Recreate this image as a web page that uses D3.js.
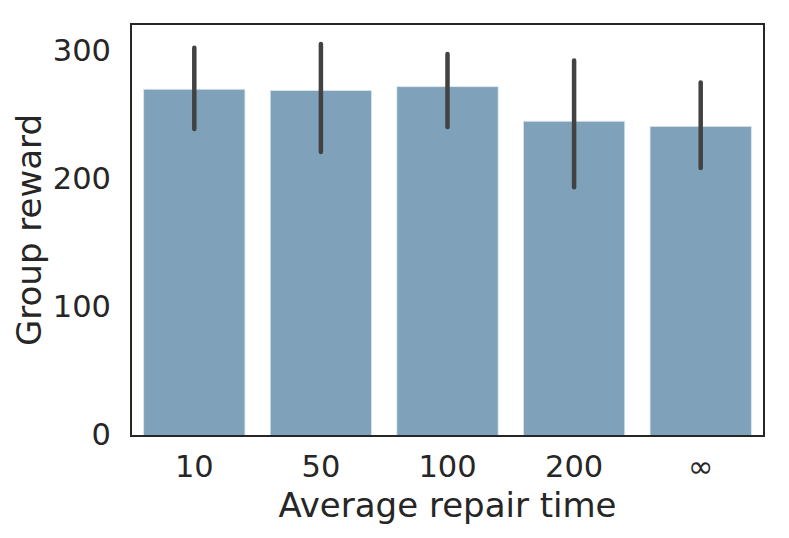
<!DOCTYPE html>
<html>
<head>
<meta charset="utf-8">
<script src="https://cdn.jsdelivr.net/npm/d3@7"></script>
<style>
  body { margin: 0; background: #fff; }
  text { font-family: "DejaVu Sans", sans-serif; fill: #262626; }
</style>
</head>
<body>
<svg id="chart" width="789" height="538"></svg>
<script>
// repair time categories and mean group reward with its confidence interval
const categories = ["10", "50", "100", "200", "\u221e"];
const rewards = [271, 270, 273, 246, 242];
const ciLow = [240, 222, 241.5, 194.5, 209.5];
const ciHigh = [303.5, 306.3, 298.5, 293.4, 276.2];
const yTicks = [0, 100, 200, 300];

const margin = {top: 24, right: 25, bottom: 102, left: 131};
const width = 789 - margin.left - margin.right;
const height = 538 - margin.top - margin.bottom;

const svg = d3.select("#chart");
const g = svg.append("g")
    .attr("transform", `translate(${margin.left},${margin.top})`);

const x = d3.scaleBand()
    .domain(categories)
    .range([0, width])
    .paddingInner(0.2)
    .paddingOuter(0.1);

const y = d3.scaleLinear()
    .domain([0, 322])
    .range([height, 0]);

// bars
g.selectAll(".bar")
    .data(rewards)
    .enter().append("rect")
    .attr("class", "bar")
    .attr("x", (d, i) => x(categories[i]))
    .attr("y", d => y(d))
    .attr("width", x.bandwidth())
    .attr("height", d => height - y(d))
    .attr("fill", "#7fa1b9")
    .attr("stroke", "#dce6ee")
    .attr("stroke-width", 0.8);

// error bars
g.selectAll(".err")
    .data(ciLow)
    .enter().append("line")
    .attr("class", "err")
    .attr("x1", (d, i) => x(categories[i]) + x.bandwidth() / 2)
    .attr("x2", (d, i) => x(categories[i]) + x.bandwidth() / 2)
    .attr("y1", d => y(d))
    .attr("y2", (d, i) => y(ciHigh[i]))
    .attr("stroke", "#424242")
    .attr("stroke-width", 4.5)
    .attr("stroke-linecap", "round");

// axes, no tick marks
const xAxis = g.append("g")
    .attr("transform", `translate(0,${height})`)
    .call(d3.axisBottom(x).tickSize(0).tickPadding(0));
xAxis.select(".domain").remove();
xAxis.selectAll("text")
    .attr("dy", null)
    .attr("y", 41)
    .style("font-size", "30.5px")
    .style("font-family", "DejaVu Sans");

const yAxis = g.append("g")
    .call(d3.axisLeft(y).tickValues(yTicks).tickSize(0).tickPadding(0));
yAxis.select(".domain").remove();
yAxis.selectAll("text")
    .attr("dy", null)
    .attr("x", -20)
    .attr("y", 8.5)
    .style("font-size", "30.5px")
    .style("font-family", "DejaVu Sans");

// frame
g.append("rect")
    .attr("x", 0)
    .attr("y", 0)
    .attr("width", width)
    .attr("height", height)
    .attr("fill", "none")
    .attr("stroke", "#262626")
    .attr("stroke-width", 2);

// axis labels
svg.append("text")
    .attr("x", margin.left + width / 2)
    .attr("y", 517)
    .attr("text-anchor", "middle")
    .style("font-size", "34px")
    .text("Average repair time");

svg.append("text")
    .attr("transform", `translate(41,${margin.top + height / 2}) rotate(-90)`)
    .attr("text-anchor", "middle")
    .style("font-size", "34px")
    .text("Group reward");
</script>
</body>
</html>
